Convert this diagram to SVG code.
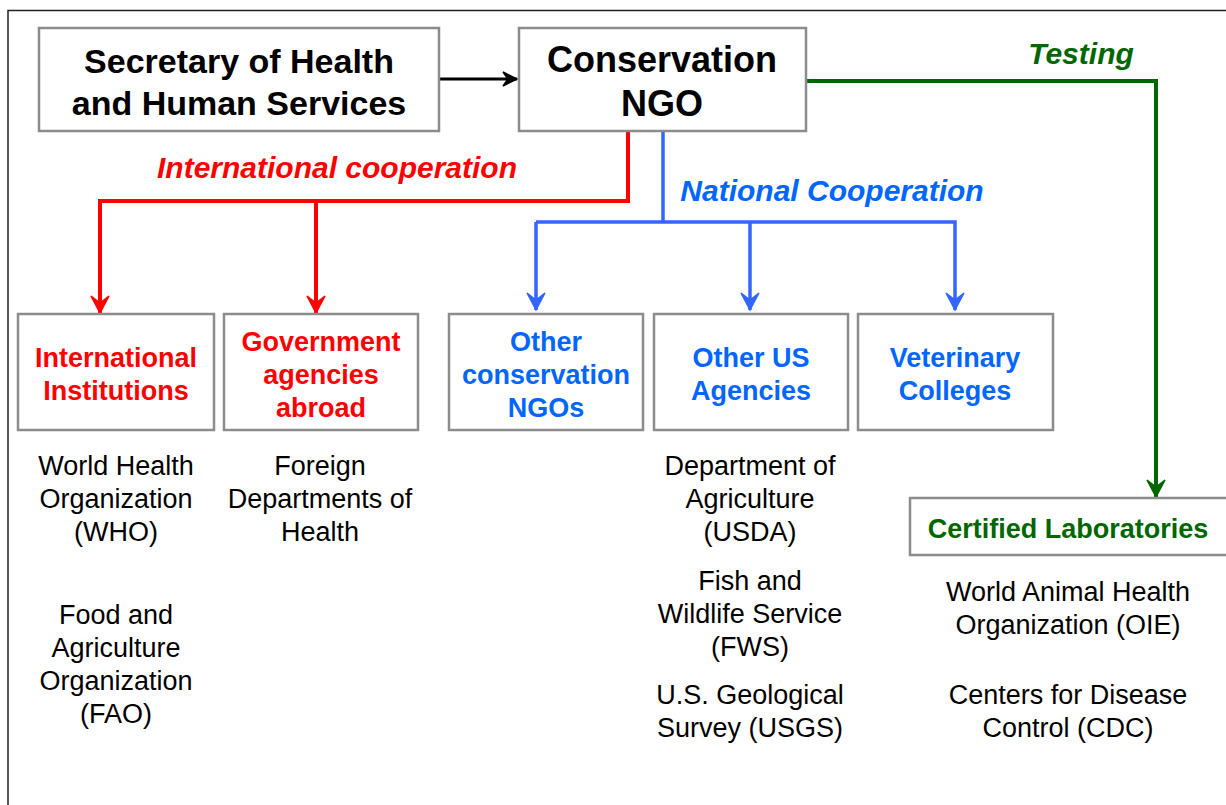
<svg xmlns="http://www.w3.org/2000/svg" width="1226" height="805" viewBox="0 0 1226 805">
<style>
.box{fill:#fff;stroke:#8c8c8c;stroke-width:2.5}
.t{font-family:"Liberation Sans",Arial,sans-serif;text-anchor:middle}
.big{font-size:34px;font-weight:bold;fill:#000}
.lbl{font-size:27px;font-weight:bold}
.it{font-size:30px;font-weight:bold;font-style:italic}
.txt{font-size:27px;fill:#000}
.red{fill:#ff0000}
.blue{fill:#0066ff}
.green{fill:#006600}
</style>
<defs>
<marker id="arR" markerUnits="userSpaceOnUse" viewBox="-20 -11 22 22" markerWidth="22" markerHeight="22" refX="0" refY="0" orient="auto">
<path d="M-17,-9 L0,0 L-17,9 L-10,0 Z" fill="#ff0000" stroke="#ff0000" stroke-width="1.5"/>
</marker>
<marker id="arB" markerUnits="userSpaceOnUse" viewBox="-20 -11 22 22" markerWidth="22" markerHeight="22" refX="0" refY="0" orient="auto">
<path d="M-17,-9 L0,0 L-17,9 L-10,0 Z" fill="#3366ff" stroke="#3366ff" stroke-width="1.5"/>
</marker>
<marker id="arG" markerUnits="userSpaceOnUse" viewBox="-20 -11 22 22" markerWidth="22" markerHeight="22" refX="0" refY="0" orient="auto">
<path d="M-17,-9 L0,0 L-17,9 L-10,0 Z" fill="#006600" stroke="#006600" stroke-width="1.5"/>
</marker>
<marker id="arK" markerUnits="userSpaceOnUse" viewBox="-16 -9 18 18" markerWidth="18" markerHeight="18" refX="0" refY="0" orient="auto">
<path d="M-14,-7 L0,0 L-14,7 L-9,0 Z" fill="#000" stroke="#000" stroke-width="1.5"/>
</marker>
</defs>
<rect x="0" y="0" width="1226" height="805" fill="#fff"/>
<path d="M8,830 L8,10.5 L1240,10.5" fill="none" stroke="#222" stroke-width="1.5"/>

<g id="connectors" fill="none">
<path d="M439,79 L517,79" stroke="#000" stroke-width="3" marker-end="url(#arK)"/>
<path d="M806,81 L1156,81 L1156,497" stroke="#006600" stroke-width="4" marker-end="url(#arG)"/>
<path d="M628,131 L628,201 L100,201 L100,313" stroke="#ff0000" stroke-width="4" marker-end="url(#arR)"/>
<path d="M316,201 L316,313" stroke="#ff0000" stroke-width="4" marker-end="url(#arR)"/>
<path d="M663,131 L663,222" stroke="#3366ff" stroke-width="3.5"/>
<path d="M536,222 L955,222 L955,310" stroke="#3366ff" stroke-width="3.5" marker-end="url(#arB)"/>
<path d="M536,222 L536,310" stroke="#3366ff" stroke-width="3.5" marker-end="url(#arB)"/>
<path d="M750,222 L750,310" stroke="#3366ff" stroke-width="3.5" marker-end="url(#arB)"/>
<text class="t it red" x="337" y="178">International cooperation</text>
<text class="t it blue" x="832" y="201">National Cooperation</text>
<text class="t it green" x="1081" y="64">Testing</text>
</g>

<g id="secretary">
<rect class="box" x="39" y="28" width="400" height="103"/>
<text class="t big" x="239" y="73">Secretary of Health</text>
<text class="t big" x="239" y="115">and Human Services</text>
</g>
<g id="ngo">
<rect class="box" x="519" y="28" width="287" height="103"/>
<text class="t big" x="662" y="72" style="font-size:36px">Conservation</text>
<text class="t big" x="662" y="116" style="font-size:36px">NGO</text>
</g>

<g id="intl">
<rect class="box" x="18" y="314" width="196" height="116"/>
<text class="t lbl red" x="116" y="367">International</text>
<text class="t lbl red" x="116" y="400">Institutions</text>
</g>
<g id="gov">
<rect class="box" x="224" y="314" width="194" height="116"/>
<text class="t lbl red" x="321" y="351">Government</text>
<text class="t lbl red" x="321" y="384">agencies</text>
<text class="t lbl red" x="321" y="417">abroad</text>
</g>
<g id="otherngo">
<rect class="box" x="449" y="314" width="194" height="116"/>
<text class="t lbl blue" x="546" y="351">Other</text>
<text class="t lbl blue" x="546" y="384">conservation</text>
<text class="t lbl blue" x="546" y="417">NGOs</text>
</g>
<g id="usagencies">
<rect class="box" x="654" y="314" width="194" height="116"/>
<text class="t lbl blue" x="751" y="367">Other US</text>
<text class="t lbl blue" x="751" y="400">Agencies</text>
</g>
<g id="vet">
<rect class="box" x="858" y="314" width="195" height="116"/>
<text class="t lbl blue" x="955" y="367">Veterinary</text>
<text class="t lbl blue" x="955" y="400">Colleges</text>
</g>
<g id="labs">
<rect class="box" x="910" y="498" width="318" height="57"/>
<text class="t lbl green" x="1068" y="538">Certified Laboratories</text>
</g>

<g id="notes">
<text class="t txt" x="116" y="475">World Health</text>
<text class="t txt" x="116" y="508">Organization</text>
<text class="t txt" x="116" y="541">(WHO)</text>
<text class="t txt" x="116" y="624">Food and</text>
<text class="t txt" x="116" y="657">Agriculture</text>
<text class="t txt" x="116" y="690">Organization</text>
<text class="t txt" x="116" y="723">(FAO)</text>
<text class="t txt" x="320" y="475">Foreign</text>
<text class="t txt" x="320" y="508">Departments of</text>
<text class="t txt" x="320" y="541">Health</text>
<text class="t txt" x="750" y="475">Department of</text>
<text class="t txt" x="750" y="508">Agriculture</text>
<text class="t txt" x="750" y="541">(USDA)</text>
<text class="t txt" x="750" y="590">Fish and</text>
<text class="t txt" x="750" y="623">Wildlife Service</text>
<text class="t txt" x="750" y="656">(FWS)</text>
<text class="t txt" x="750" y="704">U.S. Geological</text>
<text class="t txt" x="750" y="737">Survey (USGS)</text>
<text class="t txt" x="1068" y="601">World Animal Health</text>
<text class="t txt" x="1068" y="634">Organization (OIE)</text>
<text class="t txt" x="1068" y="704">Centers for Disease</text>
<text class="t txt" x="1068" y="737">Control (CDC)</text>
</g>
</svg>
